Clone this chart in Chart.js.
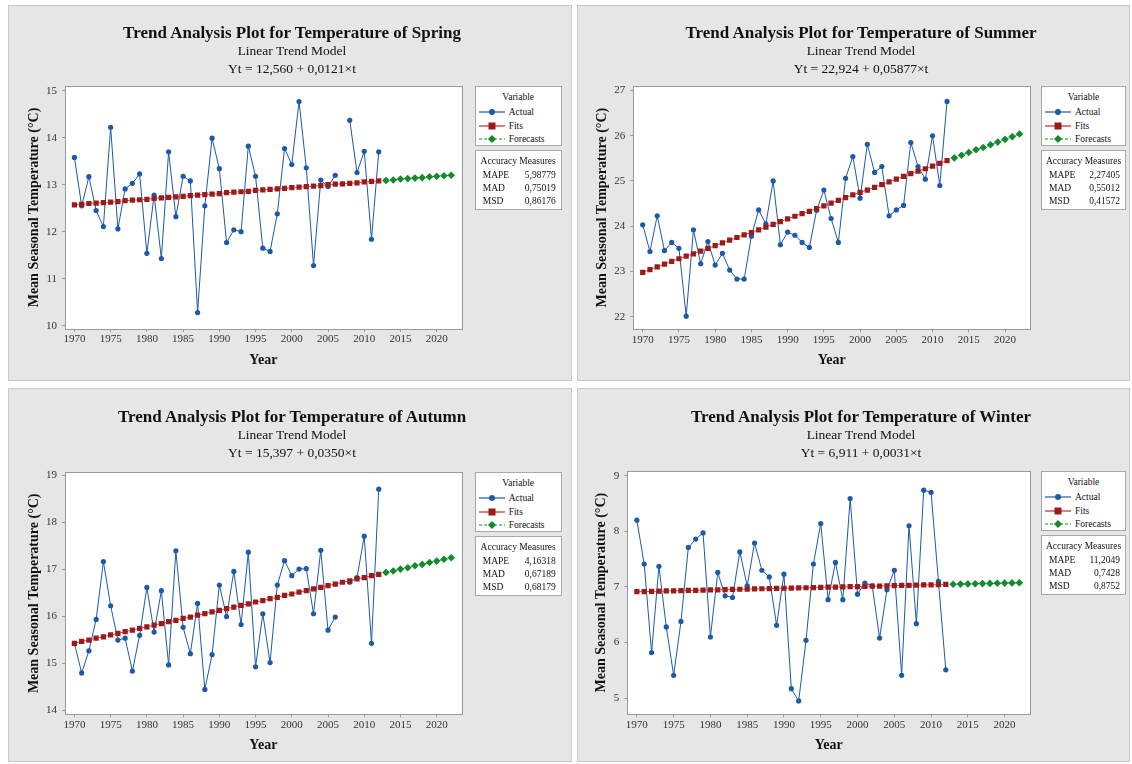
<!DOCTYPE html>
<html>
<head>
<meta charset="utf-8">
<script src="https://cdn.jsdelivr.net/npm/chart.js@4.4.1/dist/chart.umd.min.js"></script>
<style>
    body { margin: 0; background: #fff; font-family: "Liberation Serif", "DejaVu Serif", serif; }
    #page { position: relative; width: 1132px; height: 764px; }
    .panel { position: absolute; background: #e6e6e6; border: 1px solid #c9c9c9; box-sizing: border-box; }
    .panel canvas { position: absolute; left: -1px; top: -1px; }
    .t1, .t2 { position: absolute; left: 0; width: 566px; text-align: center; color: #111; white-space: nowrap; }
    .t1 { font-weight: bold; font-size: 17px; }
    .t2 { font-size: 13.5px; }
    .box { position: absolute; height: 60px; background: #fff; border: 1px solid #a8a8a8; box-sizing: border-box; font-size: 9.5px; color: #111; }
    .box .head { position: absolute; left: 0; width: 100%; top: 5px; text-align: center; }
    .box .row { position: absolute; left: 0; width: 100%; height: 12px; line-height: 12px; }
    .box .row svg { position: absolute; left: 2px; top: 2px; }
    .box .row .name { position: absolute; left: 33px; }
    .box .row .lab { position: absolute; left: 7px; }
    .box .row .val { position: absolute; right: 5px; }
</style>
</head>
<body>
<div id="page"></div>
<script>
const years = [1970, 1971, 1972, 1973, 1974, 1975, 1976, 1977, 1978, 1979,
    1980, 1981, 1982, 1983, 1984, 1985, 1986, 1987, 1988, 1989,
    1990, 1991, 1992, 1993, 1994, 1995, 1996, 1997, 1998, 1999,
    2000, 2001, 2002, 2003, 2004, 2005, 2006, 2007, 2008, 2009,
    2010, 2011, 2012];
const forecastYears = [2013, 2014, 2015, 2016, 2017, 2018, 2019, 2020, 2021, 2022];
const xTicks = [1970, 1975, 1980, 1985, 1990, 1995, 2000, 2005, 2010, 2015, 2020];

// Spring
const springActual = [13.58, 12.55, 13.17, 12.45, 12.11, 14.22, 12.06, 12.91, 13.03, 13.23,
    11.54, 12.78, 11.43, 13.70, 12.32, 13.18, 13.08, 10.28, 12.55, 13.99,
    13.34, 11.77, 12.04, 12.00, 13.82, 13.18, 11.65, 11.58, 12.38, 13.77,
    13.43, 14.77, 13.36, 11.28, 13.10, 12.96, 13.20, null, 14.37, 13.26,
    13.71, 11.84, 13.70];
const springFits = [12.57, 12.58, 12.60, 12.61, 12.62, 12.63, 12.64, 12.66, 12.67, 12.68,
    12.69, 12.71, 12.72, 12.73, 12.74, 12.75, 12.77, 12.78, 12.79, 12.80,
    12.81, 12.83, 12.84, 12.85, 12.86, 12.88, 12.89, 12.90, 12.91, 12.92,
    12.94, 12.95, 12.96, 12.97, 12.98, 13.00, 13.01, 13.02, 13.03, 13.04,
    13.06, 13.07, 13.08];
const springForecasts = [13.09, 13.10, 13.12, 13.13, 13.14, 13.15, 13.17, 13.18, 13.19, 13.20];
const springTicks = [10, 11, 12, 13, 14, 15];
const springAccuracy = ['5,98779', '0,75019', '0,86176'];

// Summer
const summerActual = [24.03, 23.44, 24.23, 23.46, 23.64, 23.51, 22.01, 23.92, 23.17, 23.66,
    23.14, 23.40, 23.03, 22.83, 22.83, 23.78, 24.36, 24.05, 25.00, 23.59,
    23.87, 23.80, 23.64, 23.53, 24.35, 24.80, 24.17, 23.64, 25.06, 25.54,
    24.62, 25.81, 25.19, 25.32, 24.23, 24.36, 24.46, 25.85, 25.32, 25.04,
    26.00, 24.90, 26.76];
const summerFits = [22.98, 23.04, 23.10, 23.16, 23.22, 23.28, 23.34, 23.39, 23.45, 23.51,
    23.57, 23.63, 23.69, 23.75, 23.81, 23.86, 23.92, 23.98, 24.04, 24.10,
    24.16, 24.22, 24.28, 24.33, 24.39, 24.45, 24.51, 24.57, 24.63, 24.69,
    24.75, 24.80, 24.86, 24.92, 24.98, 25.04, 25.10, 25.16, 25.22, 25.27,
    25.33, 25.39, 25.45];
const summerForecasts = [25.51, 25.57, 25.63, 25.69, 25.74, 25.80, 25.86, 25.92, 25.98, 26.04];
const summerTicks = [22, 23, 24, 25, 26, 27];
const summerAccuracy = ['2,27405', '0,55012', '0,41572'];

// Autumn
const autumnActual = [15.43, 14.80, 15.27, 15.94, 17.17, 16.23, 15.50, 15.54, 14.84, 15.60,
    16.62, 15.67, 16.55, 14.97, 17.40, 15.77, 15.21, 16.28, 14.45, 15.19,
    16.67, 16.00, 16.96, 15.83, 17.37, 14.93, 16.06, 15.02, 16.67, 17.19,
    16.87, 17.01, 17.02, 16.06, 17.41, 15.71, 15.99, null, 16.73, 16.83,
    17.71, 15.43, 18.71];
const autumnFits = [15.43, 15.47, 15.50, 15.54, 15.57, 15.61, 15.64, 15.68, 15.71, 15.75,
    15.78, 15.82, 15.85, 15.89, 15.92, 15.96, 15.99, 16.03, 16.06, 16.10,
    16.13, 16.17, 16.20, 16.24, 16.27, 16.31, 16.34, 16.38, 16.41, 16.45,
    16.48, 16.52, 16.55, 16.59, 16.62, 16.66, 16.69, 16.73, 16.76, 16.80,
    16.83, 16.87, 16.90];
const autumnForecasts = [16.94, 16.97, 17.01, 17.04, 17.08, 17.11, 17.15, 17.18, 17.22, 17.25];
const autumnTicks = [14, 15, 16, 17, 18, 19];
const autumnAccuracy = ['4,16318', '0,67189', '0,68179'];

// Winter
const winterActual = [8.20, 7.41, 5.82, 7.37, 6.28, 5.41, 6.38, 7.71, 7.86, 7.97,
    6.10, 7.26, 6.84, 6.81, 7.63, 7.02, 7.79, 7.30, 7.18, 6.31,
    7.23, 5.17, 4.95, 6.04, 7.41, 8.14, 6.77, 7.44, 6.77, 8.59,
    6.87, 7.07, 7.02, 6.08, 6.95, 7.30, 5.41, 8.10, 6.34, 8.74,
    8.70, 7.10, 5.51];
const winterFits = [6.914, 6.917, 6.920, 6.923, 6.927, 6.930, 6.933, 6.936, 6.939, 6.942,
    6.945, 6.948, 6.951, 6.954, 6.958, 6.961, 6.964, 6.967, 6.970, 6.973,
    6.976, 6.979, 6.982, 6.985, 6.989, 6.992, 6.995, 6.998, 7.001, 7.004,
    7.007, 7.010, 7.013, 7.016, 7.020, 7.023, 7.026, 7.029, 7.032, 7.035,
    7.038, 7.041, 7.044];
const winterForecasts = [7.047, 7.051, 7.054, 7.057, 7.060, 7.063, 7.066, 7.069, 7.072, 7.075];
const winterTicks = [5, 6, 7, 8, 9];
const winterAccuracy = ['11,2049', '0,7428', '0,8752'];

const accuracyLabels = ['MAPE', 'MAD', 'MSD'];
const legendLabels = ['Actual', 'Fits', 'Forecasts'];

document.addEventListener('DOMContentLoaded', () => {
    const page = document.getElementById('page');

    const FONT = '"Liberation Serif", "DejaVu Serif", serif';
    const BLUE = '#1c5aa8';
    const RED = '#9e1a1a';
    const RED_LINE = '#c25a5a';
    const GREEN = '#138a2c';
    const GRAY = '#9a9a9a';

    const panels = [
        { season: 'Spring', eq: 'Yt = 12,560 + 0,0121×t', actual: springActual, fits: springFits,
          forecasts: springForecasts, ticks: springTicks, acc: springAccuracy,
          box: [8, 5, 564, 376], plot: [57, 81, 453.7, 324], yMin: 9.93, yMax: 15.1,
          yTitleX: 26, xTitleY: 355, titleY: 18, boxW: 87, boxGap: 12 },
        { season: 'Summer', eq: 'Yt = 22,924 + 0,05877×t', actual: summerActual, fits: summerFits,
          forecasts: summerForecasts, ticks: summerTicks, acc: summerAccuracy,
          box: [577, 5, 553, 376], plot: [56.3, 81, 453, 324.3], yMin: 21.72, yMax: 27.1,
          yTitleX: 25.7, xTitleY: 355, titleY: 18, boxW: 85, boxGap: 10 },
        { season: 'Autumn', eq: 'Yt = 15,397 + 0,0350×t', actual: autumnActual, fits: autumnFits,
          forecasts: autumnForecasts, ticks: autumnTicks, acc: autumnAccuracy,
          box: [8, 388, 564, 374], plot: [57, 84.3, 453.7, 326.3], yMin: 13.92, yMax: 19.07,
          yTitleX: 26, xTitleY: 357, titleY: 19, boxW: 87, boxGap: 12 },
        { season: 'Winter', eq: 'Yt = 6,911 + 0,0031×t', actual: winterActual, fits: winterFits,
          forecasts: winterForecasts, ticks: winterTicks, acc: winterAccuracy,
          box: [577, 388, 553, 374], plot: [50.3, 83, 453, 326.3], yMin: 4.71, yMax: 9.084,
          yTitleX: 24.7, xTitleY: 357, titleY: 19, boxW: 85, boxGap: 10 }
    ];

    // white plot area + grey frame
    const plotFrame = {
        id: 'plotFrame',
        beforeDraw(chart) {
            const { ctx, chartArea: a } = chart;
            ctx.save();
            ctx.fillStyle = '#fff';
            ctx.fillRect(a.left, a.top, a.right - a.left, a.bottom - a.top);
            ctx.restore();
        },
        afterDraw(chart) {
            const { ctx, chartArea: a } = chart;
            ctx.save();
            ctx.strokeStyle = GRAY;
            ctx.lineWidth = 1;
            ctx.strokeRect(Math.round(a.left) + 0.5, Math.round(a.top) + 0.5,
                Math.round(a.right - a.left), Math.round(a.bottom - a.top));
            ctx.restore();
        }
    };

    function legendSymbol(i) {
        if (i === 0) {
            return `<svg width="28" height="8"><line x1="1" y1="4" x2="27" y2="4" stroke="${BLUE}" stroke-width="1.2"/>
                <circle cx="14" cy="4" r="3" fill="${BLUE}"/></svg>`;
        }
        if (i === 1) {
            return `<svg width="28" height="8"><line x1="1" y1="4" x2="27" y2="4" stroke="${RED_LINE}" stroke-width="1.5"/>
                <rect x="10.5" y="0.5" width="7" height="7" fill="${RED}"/></svg>`;
        }
        return `<svg width="28" height="8"><line x1="1" y1="4" x2="27" y2="4" stroke="${GREEN}" stroke-width="1.2" stroke-dasharray="3,2"/>
            <polygon points="14,0 18,4 14,8 10,4" fill="${GREEN}"/></svg>`;
    }

    function buildPanel(p) {
        const [bx, by, bw, bh] = p.box;
        const [pl, pt, pr, pb] = p.plot;
        const el = document.createElement('div');
        el.className = 'panel';
        el.style.left = bx + 'px';
        el.style.top = by + 'px';
        el.style.width = bw + 'px';
        el.style.height = bh + 'px';

        const canvas = document.createElement('canvas');
        canvas.width = bw;
        canvas.height = bh;
        canvas.style.width = bw + 'px';
        canvas.style.height = bh + 'px';
        el.appendChild(canvas);

        const titles = [
            ['t1', `Trend Analysis Plot for Temperature of ${p.season}`, p.titleY - 1],
            ['t2', 'Linear Trend Model', p.titleY + 19],
            ['t2', p.eq, p.titleY + 37]
        ];
        titles.forEach(([cls, text, top]) => {
            const t = document.createElement('div');
            t.className = cls;
            t.style.top = top + 'px';
            t.textContent = text;
            el.appendChild(t);
        });

        const legend = document.createElement('div');
        legend.className = 'box';
        legend.style.left = (pr + p.boxGap) + 'px';
        legend.style.top = (pt - 1) + 'px';
        legend.style.width = p.boxW + 'px';
        let html = '<div class="head">Variable</div>';
        legendLabels.forEach((name, i) => {
            html += `<div class="row" style="top:${19 + i * 13.5}px">${legendSymbol(i)}<span class="name">${name}</span></div>`;
        });
        legend.innerHTML = html;
        el.appendChild(legend);

        const acc = document.createElement('div');
        acc.className = 'box';
        acc.style.left = (pr + p.boxGap) + 'px';
        acc.style.top = (pt + 63) + 'px';
        acc.style.width = p.boxW + 'px';
        html = '<div class="head">Accuracy Measures</div>';
        accuracyLabels.forEach((name, i) => {
            html += `<div class="row" style="top:${18 + i * 13}px"><span class="lab">${name}</span><span class="val">${p.acc[i]}</span></div>`;
        });
        acc.innerHTML = html;
        el.appendChild(acc);

        page.appendChild(el);

        // axis sizes so that the plot area lands where the reference has it
        const titleOffset = 14 * 1.2 / 2 + 4;
        const padLeft = p.yTitleX - titleOffset;
        const yWidth = pl - padLeft;
        const scaleBottom = p.xTitleY + titleOffset;
        const xHeight = scaleBottom - pb;

        const tickFont = { family: FONT, size: 11 };
        const titleFont = { family: FONT, size: 14, weight: 'bold' };

        new Chart(canvas, {
            type: 'line',
            data: {
                datasets: [
                    {
                        label: 'Fits',
                        data: years.map((x, i) => ({ x, y: p.fits[i] })),
                        borderColor: RED_LINE,
                        borderWidth: 1,
                        pointStyle: 'rect',
                        pointRadius: 3.7,
                        pointBackgroundColor: RED,
                        pointBorderColor: RED,
                        pointBorderWidth: 0,
                        order: 1
                    },
                    {
                        label: 'Forecasts',
                        data: forecastYears.map((x, i) => ({ x, y: p.forecasts[i] })),
                        borderColor: GREEN,
                        borderWidth: 1,
                        borderDash: [3, 2],
                        pointStyle: 'rectRot',
                        pointRadius: 3.8,
                        pointBackgroundColor: GREEN,
                        pointBorderColor: GREEN,
                        pointBorderWidth: 0,
                        order: 2
                    },
                    {
                        label: 'Actual',
                        data: years.map((x, i) => ({ x, y: p.actual[i] })),
                        borderColor: BLUE,
                        borderWidth: 1,
                        pointStyle: 'circle',
                        pointRadius: 2.6,
                        pointBackgroundColor: BLUE,
                        pointBorderColor: BLUE,
                        pointBorderWidth: 0,
                        spanGaps: false,
                        order: 3
                    }
                ]
            },
            options: {
                responsive: false,
                animation: false,
                layout: { padding: { left: padLeft, top: pt, right: bw - pr, bottom: bh - scaleBottom } },
                plugins: { legend: { display: false }, tooltip: { enabled: false } },
                scales: {
                    x: {
                        type: 'linear',
                        min: 1968.7,
                        max: 2023.45,
                        afterBuildTicks: s => { s.ticks = xTicks.map(v => ({ value: v })); },
                        afterFit: s => { s.height = xHeight; },
                        grid: { drawOnChartArea: false, tickLength: 3, color: GRAY },
                        border: { color: GRAY },
                        ticks: { font: tickFont, color: '#333', padding: 1, maxRotation: 0, autoSkip: false,
                            callback: v => String(v) },
                        title: { display: true, text: 'Year', font: titleFont, color: '#111' }
                    },
                    y: {
                        min: p.yMin,
                        max: p.yMax,
                        afterBuildTicks: s => { s.ticks = p.ticks.map(v => ({ value: v })); },
                        afterFit: s => { s.width = yWidth; },
                        grid: { drawOnChartArea: false, tickLength: 3, color: GRAY },
                        border: { color: GRAY },
                        ticks: { font: tickFont, color: '#333', padding: 5, autoSkip: false,
                            callback: v => String(v) },
                        title: { display: true, text: 'Mean Seasonal Temperature (°C)', font: titleFont, color: '#111' }
                    }
                }
            },
            plugins: [plotFrame]
        });
    }

    panels.forEach(buildPanel);
});
</script>
</body>
</html>
